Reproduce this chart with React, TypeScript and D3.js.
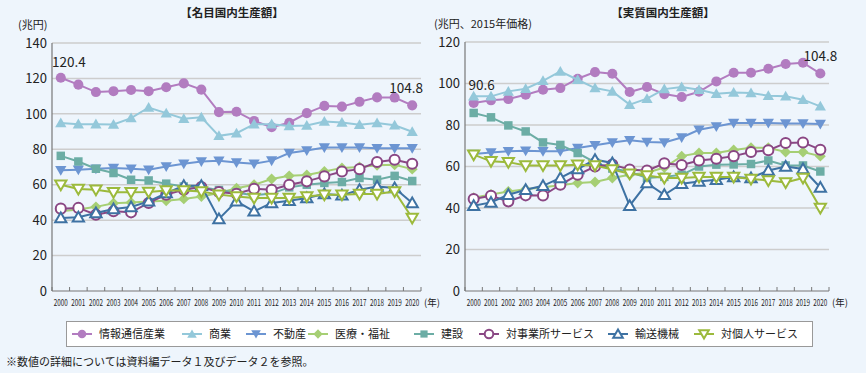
import React from 'react'
import * as d3 from 'd3'

const years = ['2000', '2001', '2002', '2003', '2004', '2005', '2006', '2007', '2008', '2009', '2010',
  '2011', '2012', '2013', '2014', '2015', '2016', '2017', '2018', '2019', '2020']

const seriesNames = ['情報通信産業', '商業', '不動産', '医療・福祉', '建設', '対事業所サービス', '輸送機械', '対個人サービス']

// nominal (兆円)
const nomIct = [120.4, 116.5, 112.3, 112.8, 113.5, 112.8, 115.0, 117.2, 113.7, 101.0, 101.2, 96.0, 92.5, 95.0, 100.4, 104.5, 104.1, 106.8, 109.3, 109.2, 104.8]
const nomCommerce = [94.8, 94.2, 94.2, 94.0, 97.6, 103.6, 100.4, 97.2, 98.1, 87.6, 89.1, 94.2, 94.2, 93.2, 93.4, 95.7, 95.1, 93.8, 94.8, 93.6, 89.9]
const nomRealEstate = [68.1, 68.5, 69.0, 69.4, 69.0, 68.5, 70.3, 71.8, 73.1, 73.5, 72.6, 71.8, 73.6, 77.9, 79.3, 81.0, 81.0, 81.0, 80.6, 80.6, 80.6]
const nomMedical = [45.0, 46.0, 47.5, 49.5, 50.0, 50.5, 51.0, 52.0, 53.4, 55.3, 58.0, 60.0, 63.2, 65.0, 65.5, 67.5, 69.5, 70.0, 71.0, 71.3, 68.8]
const nomConstruction = [76.3, 73.1, 69.0, 66.6, 62.8, 62.4, 60.6, 59.0, 58.6, 57.0, 55.5, 54.0, 55.0, 58.5, 60.0, 61.0, 61.5, 63.8, 62.8, 65.0, 62.1]
const nomBusiness = [46.5, 46.9, 43.1, 45.0, 44.4, 49.7, 54.4, 57.2, 58.7, 55.9, 54.9, 57.7, 57.2, 60.0, 61.9, 64.7, 67.5, 68.8, 72.8, 74.1, 71.8]
const nomTransport = [41.2, 41.6, 44.0, 46.3, 47.4, 50.6, 55.3, 59.4, 59.4, 40.7, 50.6, 45.0, 49.7, 51.0, 52.5, 54.8, 54.0, 57.2, 59.0, 58.1, 49.7]
const nomPersonal = [60.0, 57.6, 57.2, 55.7, 55.7, 55.9, 56.8, 56.8, 56.2, 54.4, 53.4, 52.5, 52.5, 52.5, 53.4, 54.4, 54.4, 54.8, 54.8, 56.2, 41.2]

// real (兆円、2015年価格)
const realIct = [90.6, 91.9, 92.5, 94.6, 97.0, 97.8, 102.3, 105.5, 104.7, 95.9, 98.3, 94.9, 93.5, 96.0, 101.0, 105.2, 105.2, 107.1, 109.4, 110.0, 104.8]
const realCommerce = [93.8, 93.8, 96.2, 97.5, 101.3, 105.8, 101.8, 97.8, 96.2, 89.8, 92.7, 97.3, 98.3, 97.0, 95.1, 95.7, 95.4, 94.1, 93.8, 92.2, 89.0]
const realRealEstate = [66.0, 66.8, 67.3, 67.6, 67.3, 67.3, 68.9, 70.2, 71.6, 72.6, 71.8, 71.6, 74.0, 77.7, 79.3, 81.0, 81.0, 81.0, 80.7, 80.7, 80.5]
const realMedical = [45.0, 46.5, 48.0, 49.0, 50.0, 51.0, 52.0, 52.5, 54.5, 56.0, 57.0, 59.5, 65.0, 66.5, 66.5, 68.0, 69.0, 69.0, 67.0, 67.0, 65.0]
const realConstruction = [85.8, 83.7, 79.8, 76.9, 71.6, 70.4, 66.5, 62.0, 59.0, 57.5, 54.5, 55.0, 56.0, 60.0, 60.9, 61.0, 61.2, 62.9, 60.5, 60.5, 57.6]
const realBusiness = [44.3, 45.9, 43.2, 46.1, 46.0, 51.2, 56.0, 60.0, 60.9, 58.5, 58.0, 61.5, 60.7, 62.9, 63.7, 65.0, 67.0, 67.8, 71.3, 71.6, 68.1]
const realTransport = [41.1, 42.7, 46.4, 48.8, 50.7, 54.5, 58.8, 63.3, 61.7, 41.1, 52.0, 46.4, 51.7, 52.8, 53.6, 54.9, 54.5, 58.1, 60.0, 58.8, 49.9]
const realPersonal = [65.7, 62.5, 62.1, 60.5, 60.5, 60.5, 60.9, 60.5, 58.5, 56.5, 55.7, 54.5, 54.5, 54.9, 54.9, 54.9, 54.0, 53.3, 52.3, 54.5, 40.0]

const nomTicks = [0, 20, 40, 60, 80, 100, 120, 140]
const realTicks = [0, 20, 40, 60, 80, 100, 120]

type Style = { color: string, shape: string, hollow: boolean }
const styles: Style[] = [
  { color: '#b27cc0', shape: 'circle', hollow: false },
  { color: '#94c8da', shape: 'up', hollow: false },
  { color: '#6c95d2', shape: 'down', hollow: false },
  { color: '#a6cf74', shape: 'diamond', hollow: false },
  { color: '#6cada5', shape: 'square', hollow: false },
  { color: '#8a4784', shape: 'circle', hollow: true },
  { color: '#3e72a3', shape: 'up', hollow: true },
  { color: '#9cba3c', shape: 'down', hollow: true },
]

const font = "'Noto Sans CJK JP', 'Noto Sans', sans-serif"
const bg = '#eef5fc'

function markerPath(shape: string, k = 1) {
  if (shape === 'circle') return d3.symbol(d3.symbolCircle, 80 * k * k)()
  if (shape === 'square') return d3.symbol(d3.symbolSquare, 72 * k * k)()
  if (shape === 'diamond') return d3.symbol(d3.symbolSquare, 60 * k * k)()
  return d3.symbol(d3.symbolTriangle, 55 * k * k)()
}

function Marker({ s, x, y, k = 1 }: { s: Style, x: number, y: number, k?: number }) {
  let rot = 0
  if (s.shape === 'down') rot = 180
  if (s.shape === 'diamond') rot = 45
  const dy = s.shape === 'up' ? 1 : s.shape === 'down' ? -1 : 0
  return (
    <path
      d={markerPath(s.shape, k) || ''}
      transform={`translate(${x},${y + dy}) rotate(${rot})`}
      fill={s.hollow ? '#fff' : s.color}
      stroke={s.color}
      strokeWidth={s.hollow ? 2 : 0}
    />
  )
}

type PanelProps = {
  x0: number, x1: number, yTop: number, yBottom: number,
  max: number, ticks: number[], data: number[][],
  title: string, titleX: number, unit: string, unitX: number, unitY: number,
  labels: { text: string, i: number, dx: number, dy: number }[]
}

function Panel(p: PanelProps) {
  const x = d3.scaleBand().domain(years).range([p.x0, p.x1])
  const y = d3.scaleLinear().domain([0, p.max]).range([p.yBottom, p.yTop])
  const cx = (yr: string) => (x(yr) as number) + x.bandwidth() / 2
  const line = d3.line<number>().x((_, i) => cx(years[i])).y(d => y(d))
  const bounds = years.map(yr => x(yr) as number).concat([p.x1])

  return (
    <g>
      <text x={p.titleX} y={17} textAnchor="middle" fontSize={11.5} fontWeight="bold" fill="#222">{p.title}</text>
      <text x={p.unitX} y={p.unitY} fontSize={11} fill="#222">{p.unit}</text>
      {p.ticks.map(t => (
        <g key={t}>
          {t > 0 && <line x1={p.x0} x2={p.x1} y1={y(t)} y2={y(t)} stroke="#cdcdcd" strokeWidth={1.5} />}
          <text x={p.x0 - 5} y={y(t)} dy="0.36em" textAnchor="end" fontSize={13} fill="#222">{t}</text>
        </g>
      ))}
      <line x1={p.x0} x2={p.x0} y1={p.yTop} y2={p.yBottom} stroke="#777" strokeWidth={1.2} />
      <line x1={p.x0} x2={p.x1} y1={p.yBottom} y2={p.yBottom} stroke="#777" strokeWidth={1.2} />
      {bounds.map((b, i) => (
        <line key={i} x1={b} x2={b} y1={p.yBottom} y2={p.yBottom - 4} stroke="#777" strokeWidth={1} />
      ))}
      {years.map(yr => (
        <text key={yr} x={cx(yr)} y={306} textAnchor="middle" fontSize={8.5} fill="#222"
          textLength={14} lengthAdjust="spacingAndGlyphs">{yr}</text>
      ))}
      <text x={p.x1 + 3} y={306} fontSize={9.5} fill="#222">(年)</text>
      {p.data.map((vals, si) => (
        <g key={si}>
          <path d={line(vals) || ''} fill="none" stroke={styles[si].color} strokeWidth={2} />
          {vals.map((v, i) => <Marker key={i} s={styles[si]} x={cx(years[i])} y={y(v)} />)}
        </g>
      ))}
      {p.labels.map(l => (
        <text key={l.i} x={cx(years[l.i]) + l.dx} y={y(p.data[0][l.i]) + l.dy} textAnchor="middle"
          fontSize={13.5} fill="#222">{l.text}</text>
      ))}
    </g>
  )
}

export default function App() {
  const nominal = [nomIct, nomCommerce, nomRealEstate, nomMedical, nomConstruction, nomBusiness, nomTransport, nomPersonal]
  const real = [realIct, realCommerce, realRealEstate, realMedical, realConstruction, realBusiness, realTransport, realPersonal]

  const legendX = [82, 192, 256, 318, 424, 489, 618, 704]

  return (
    <svg width={866} height={373} style={{ position: 'absolute', left: 0, top: 0, fontFamily: font }}>
      <rect width={866} height={373} fill={bg} />
      <Panel x0={52} x1={421} yTop={43} yBottom={291} max={140} ticks={nomTicks} data={nominal}
        title="【名目国内生産額】" titleX={232} unit="(兆円)" unitX={18} unitY={29}
        labels={[{ text: '120.4', i: 0, dx: 8, dy: -11 }, { text: '104.8', i: 20, dx: -6, dy: -12 }]} />
      <Panel x0={465} x1={829} yTop={42} yBottom={291} max={120} ticks={realTicks} data={real}
        title="【実質国内生産額】" titleX={663} unit="(兆円、2015年価格)" unitX={434} unitY={28}
        labels={[{ text: '90.6', i: 0, dx: 8, dy: -13 }, { text: '104.8', i: 20, dx: 0, dy: -13 }]} />
      <rect x={66.5} y={321.5} width={746} height={25} fill="#fff" stroke="#999" strokeWidth={1} />
      {seriesNames.map((n, i) => (
        <g key={n}>
          <line x1={legendX[i] - 10} x2={legendX[i] + 10} y1={334} y2={334} stroke={styles[i].color} strokeWidth={2} />
          <Marker s={styles[i]} x={legendX[i]} y={334} k={0.85} />
          <text x={legendX[i] + 17} y={334} dy="0.36em" fontSize={11} fill="#222">{n}</text>
        </g>
      ))}
      <text x={6} y={362} dy="0.36em" fontSize={11} fill="#222">※数値の詳細については資料編データ１及びデータ２を参照。</text>
    </svg>
  )
}
